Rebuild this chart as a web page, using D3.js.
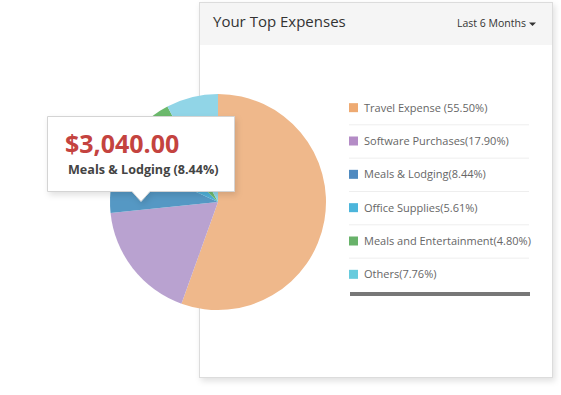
<!DOCTYPE html>
<html>
<head>
<meta charset="utf-8">
<script src="https://cdn.jsdelivr.net/npm/d3@7"></script>
<style>
  html, body { margin: 0; padding: 0; background: #fff; }
  svg { display: block; font-family: "Open Sans", "Noto Sans", sans-serif; }
</style>
</head>
<body>
<svg id="chart" width="561" height="395"></svg>
<script>
const categories = ["Travel Expense", "Software Purchases", "Meals & Lodging", "Office Supplies", "Meals and Entertainment", "Others"]
const shares = [55.50, 17.90, 8.44, 5.61, 4.80, 7.76]
const legendLabels = ["Travel Expense (55.50%)", "Software Purchases(17.90%)", "Meals & Lodging(8.44%)", "Office Supplies(5.61%)", "Meals and Entertainment(4.80%)", "Others(7.76%)"]
const sliceColors = ["#efb88b", "#b9a2d0", "#5598c4", "#4fb0d8", "#6cb96c", "#91d5e7"]
const keyColors = ["#eeaa72", "#b48cc6", "#4f8ac0", "#4cb5db", "#68b26a", "#67cbdd"]
const periodLabel = "Last 6 Months"
const tipValue = "$3,040.00"
const tipIndex = 2

const svg = d3.select("#chart")
const defs = svg.append("defs")
const shadow = defs.append("filter").attr("id", "shadow").attr("x", "-10%").attr("y", "-10%").attr("width", "130%").attr("height", "130%")
shadow.append("feDropShadow").attr("dx", 2).attr("dy", 3).attr("stdDeviation", 3).attr("flood-color", "#000").attr("flood-opacity", 0.12)

// panel
const panel = {x: 199.5, y: 2.5, w: 353, h: 375}
svg.append("rect")
  .attr("x", panel.x).attr("y", panel.y).attr("width", panel.w).attr("height", panel.h)
  .attr("fill", "#fff").attr("stroke", "#dcdcdc").attr("filter", "url(#shadow)")
svg.append("rect")
  .attr("x", panel.x + 0.5).attr("y", panel.y + 0.5).attr("width", panel.w - 1).attr("height", 42)
  .attr("fill", "#f5f5f5")
svg.append("text").attr("x", 213).attr("y", 27)
  .attr("font-size", 15).attr("fill", "#333").text("Your Top Expenses")
svg.append("text").attr("x", 457).attr("y", 27)
  .attr("font-size", 10.5).attr("fill", "#333").text(periodLabel)
svg.append("path").attr("d", "M529,22.5h7l-3.5,3.5z").attr("fill", "#333")

// legend
const ly = d3.scaleBand().domain(categories).range([91, 291]).paddingInner(0)
const legend = svg.append("g")
categories.forEach((c, i) => {
  const y = ly(c) + ly.bandwidth() / 2
  legend.append("rect").attr("x", 349).attr("y", y - 4.5).attr("width", 9).attr("height", 9).attr("fill", keyColors[i])
  legend.append("text").attr("x", 364).attr("y", y + 4).attr("font-size", 11).attr("fill", "#666").text(legendLabels[i])
  if (i < categories.length - 1) {
    legend.append("line").attr("x1", 349).attr("x2", 529)
      .attr("y1", ly(c) + ly.bandwidth() + 0.5).attr("y2", ly(c) + ly.bandwidth() + 0.5)
      .attr("stroke", "#eeeeee")
  }
})
legend.append("rect").attr("x", 350).attr("y", 292).attr("width", 180).attr("height", 4).attr("fill", "#777")

// pie
const cx = 218, cy = 202, r = 108
const pie = d3.pie().sort(null).value((d) => d)
const arc = d3.arc().innerRadius(0).outerRadius(r)
svg.append("g").attr("transform", `translate(${cx},${cy})`)
  .selectAll("path")
  .data(pie(shares))
  .join("path")
  .attr("d", arc)
  .attr("fill", (d, i) => sliceColors[i])

// tooltip
const tip = {x: 47.5, y: 116.5, w: 187, h: 75, px: 141}
const tipPath = d3.path()
tipPath.moveTo(tip.x, tip.y)
tipPath.lineTo(tip.x + tip.w, tip.y)
tipPath.lineTo(tip.x + tip.w, tip.y + tip.h)
tipPath.lineTo(tip.px + 9, tip.y + tip.h)
tipPath.lineTo(tip.px, tip.y + tip.h + 10)
tipPath.lineTo(tip.px - 9, tip.y + tip.h)
tipPath.lineTo(tip.x, tip.y + tip.h)
tipPath.closePath()
svg.append("path").attr("d", tipPath.toString())
  .attr("fill", "#fff").attr("stroke", "#d4d4d4").attr("filter", "url(#shadow)")
svg.append("text").attr("x", 65).attr("y", 153)
  .attr("font-size", 25).attr("font-weight", 700).attr("fill", "#c4433f").text(tipValue)
svg.append("text").attr("x", 68).attr("y", 174)
  .attr("font-size", 12.6).attr("font-weight", 700).attr("fill", "#444")
  .text(`${categories[tipIndex]} (${shares[tipIndex].toFixed(2)}%)`)
</script>
</body>
</html>
